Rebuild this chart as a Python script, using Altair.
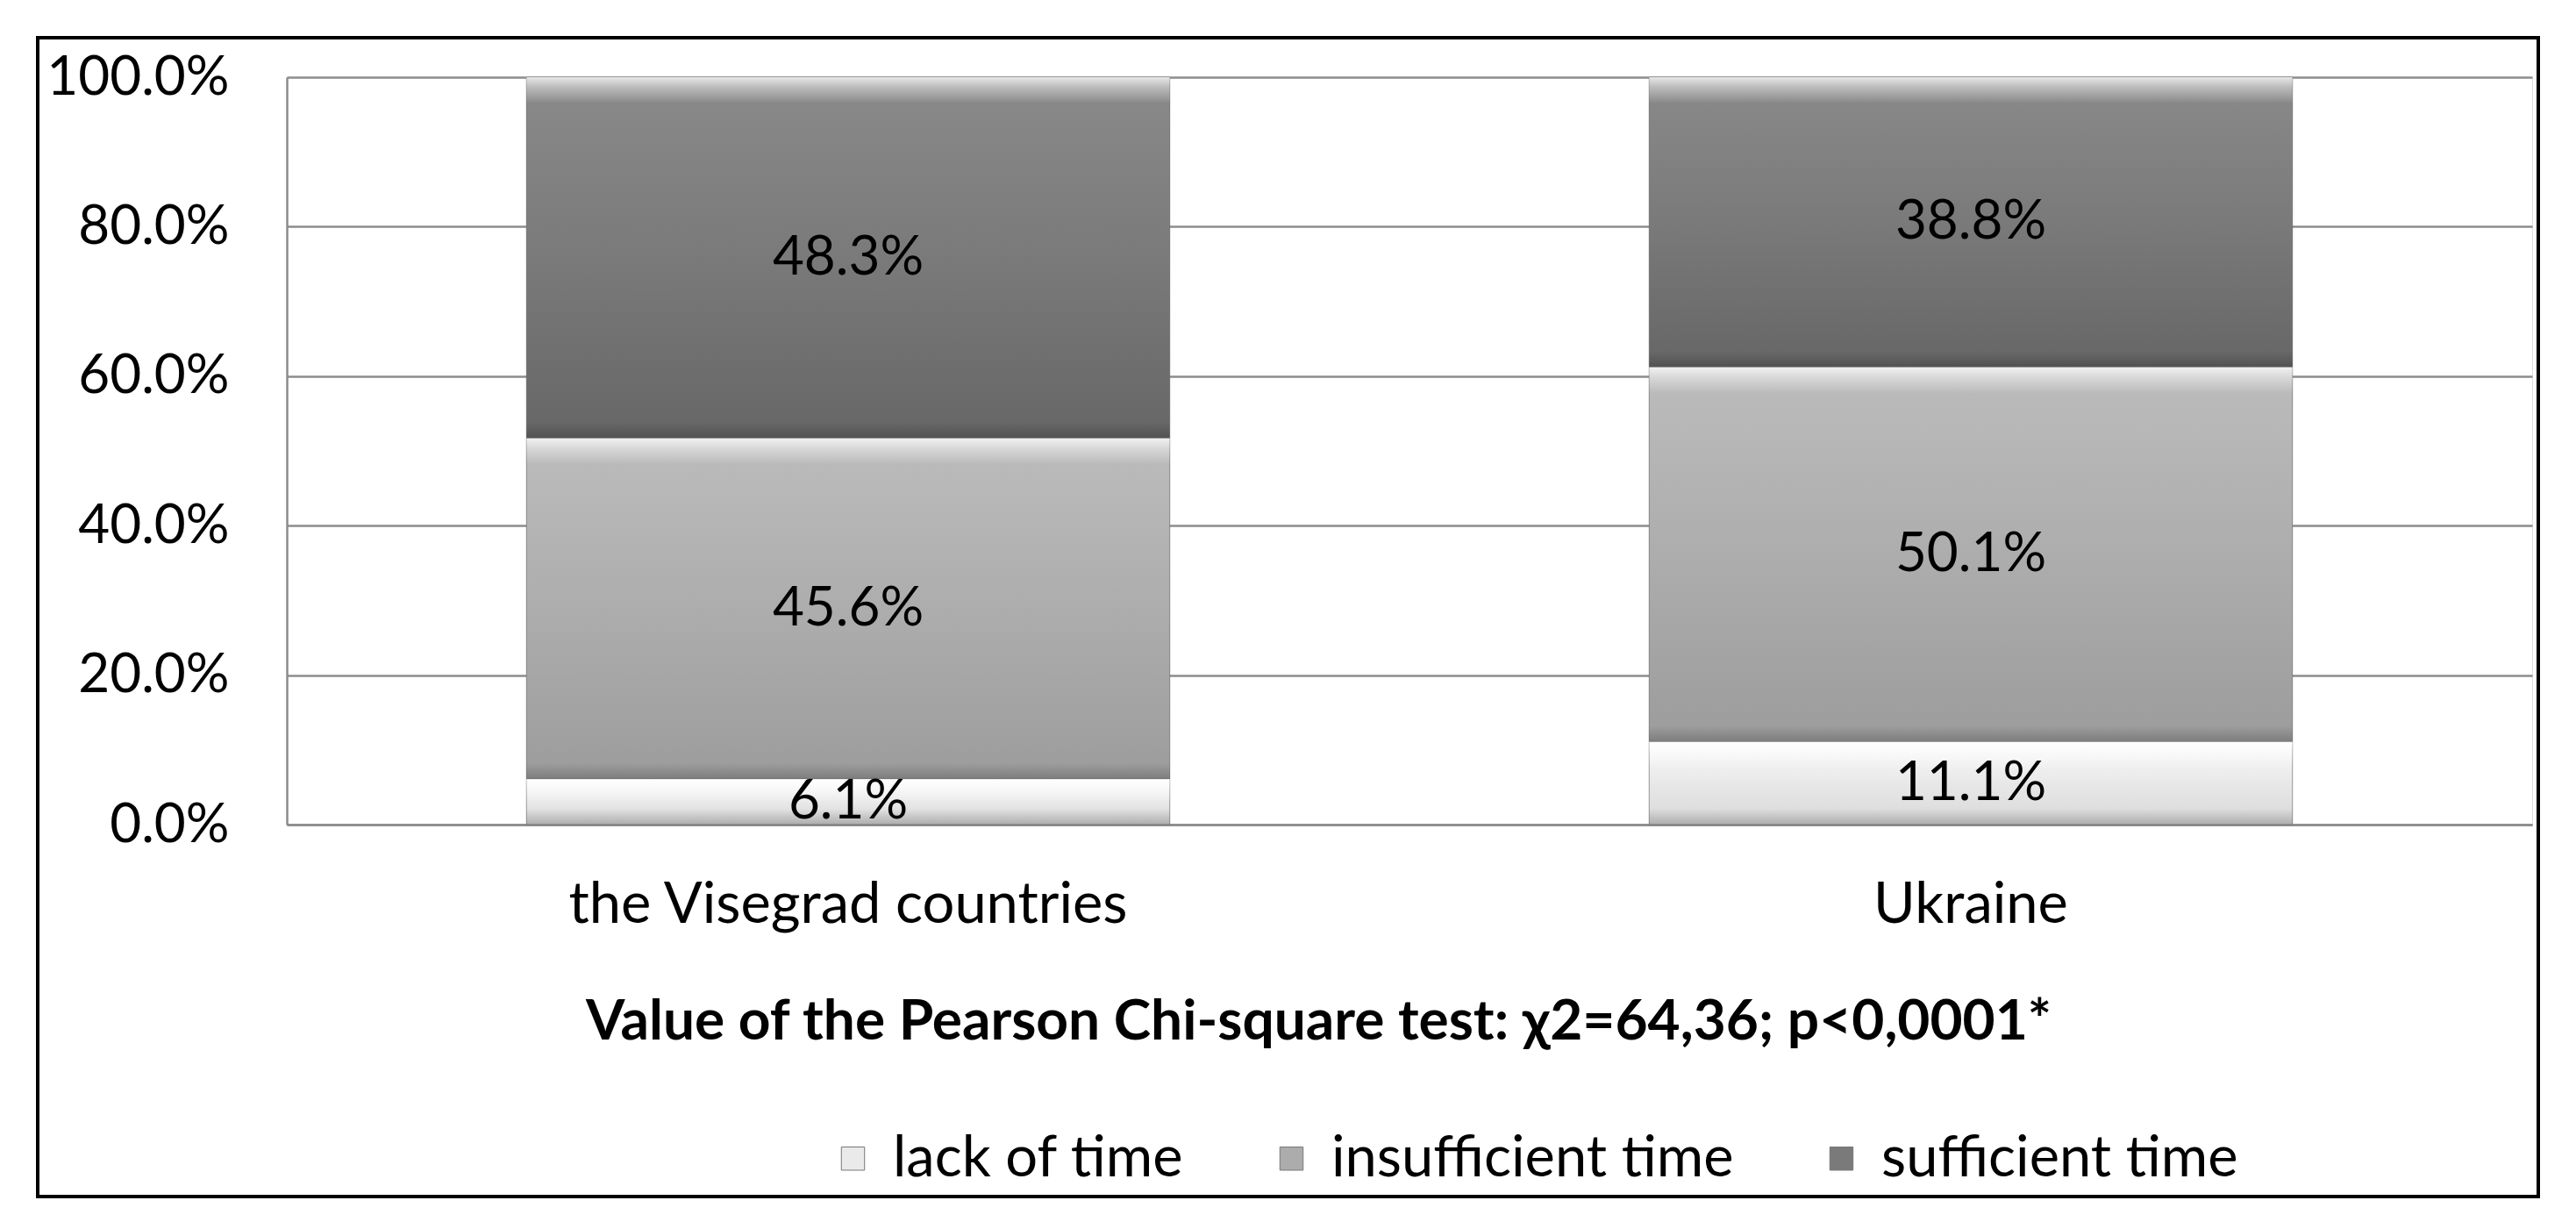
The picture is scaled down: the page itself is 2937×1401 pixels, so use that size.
import altair as alt
import pandas as pd

categories = ["the Visegrad countries", "Ukraine"]
series = ["lack of time", "insufficient time", "sufficient time"]
visegrad_values = [6.1, 45.6, 48.3]
ukraine_values = [11.1, 50.1, 38.8]
y_ticks = [0, 20, 40, 60, 80, 100]
x_title = "Value of the Pearson Chi-square test: χ2=64,36; p<0,0001*"

legend_colors = ["#eaeaea", "#acacac", "#7a7a7a"]
body_stops = {
    "lack of time": [("#fbfbfb", 0), ("#e8e8e8", 0.5), ("#d8d8d8", 1)],
    "insufficient time": [("#bcbcbc", 0), ("#adadad", 0.5), ("#9c9c9c", 1)],
    "sufficient time": [("#8a8a8a", 0), ("#7a7a7a", 0.5), ("#666666", 1)],
}

rows = []
for cat, vals in zip(categories, [visegrad_values, ukraine_values]):
    for i, (s, v) in enumerate(zip(series, vals)):
        rows.append({"category": cat, "series": s, "value": v, "order": i})
df = pd.DataFrame(rows)

FONT = "Lato"
FS = 62
FS_TEXT = 65

y_scale = alt.Scale(domain=[0, 100], nice=False)
y_axis = alt.Axis(
    values=y_ticks, labelExpr="format(datum.value, '.1f') + '%'", title=None,
    grid=True, gridColor="#8c8c8c", gridWidth=2.5,
    domain=True, domainColor="#8c8c8c", domainWidth=2.5, ticks=False,
    labelFont=FONT, labelFontSize=FS, labelColor="black", labelPadding=66,
    labelLimit=2000,
)
x_axis = alt.Axis(
    title=x_title, labelAngle=0, labelFont=FONT, labelFontSize=FS_TEXT,
    labelColor="black", labelPadding=60, labelLimit=2000, ticks=False,
    domain=True, domainColor="#8c8c8c", domainWidth=2.5, grid=False,
    titleFont=FONT, titleFontSize=64, titleFontWeight="bold", titleColor="black",
    titleX=1176, titleY=225, titleBaseline="middle", titleAlign="center",
    titleLimit=4000,
)
x_enc = alt.X("category:N", sort=categories,
              scale=alt.Scale(paddingInner=0.427, paddingOuter=0.2135), axis=x_axis)

base = alt.Chart(df).transform_stack(
    stack="value", groupby=["category"],
    sort=[alt.SortField("order", order="ascending")], as_=["y0", "y1"]
).transform_calculate(
    mid="(datum.y0 + datum.y1) / 2",
    label="format(datum.value, '.1f') + '%'",
)

legend_layer = base.mark_bar().encode(
    x=x_enc,
    y=alt.Y("y0:Q", scale=y_scale, axis=y_axis),
    y2="y1:Q",
    color=alt.Color(
        "series:N", scale=alt.Scale(domain=series, range=legend_colors),
        legend=alt.Legend(
            title=None, orient="none", legendX=613, legendY=1200,
            direction="horizontal", columns=3, symbolType="square",
            symbolSize=700, symbolStrokeColor="#777777", symbolStrokeWidth=1,
            labelFont=FONT, labelFontSize=FS_TEXT, labelColor="black",
            labelOffset=13, columnPadding=90, labelLimit=2000, symbolOpacity=1,
        ),
    ),
)

layers = [legend_layer]
for s in series:
    grad = alt.Gradient(
        gradient="linear", x1=0, y1=0, x2=0, y2=1,
        stops=[alt.GradientStop(color=c, offset=o) for c, o in body_stops[s]],
    )
    layers.append(
        base.transform_filter(alt.datum.series == s)
        .mark_bar(fill=grad, stroke="#707070", strokeWidth=1, strokeOpacity=0.7)
        .encode(x=x_enc, y=alt.Y("y0:Q", scale=y_scale, axis=y_axis), y2="y1:Q")
    )

top_band = base.mark_bar(
    y2Offset=30,
    fill=alt.Gradient(
        gradient="linear", x1=0, y1=0, x2=0, y2=1,
        stops=[alt.GradientStop(color="rgba(255,255,255,0.8)", offset=0),
               alt.GradientStop(color="rgba(255,255,255,0.45)", offset=0.35),
               alt.GradientStop(color="rgba(255,255,255,0)", offset=1)],
    ),
).encode(x=x_enc, y=alt.Y("y1:Q", scale=y_scale, axis=y_axis), y2="y1:Q")

bottom_band = base.mark_bar(
    yOffset=-18,
    fill=alt.Gradient(
        gradient="linear", x1=0, y1=0, x2=0, y2=1,
        stops=[alt.GradientStop(color="rgba(0,0,0,0)", offset=0),
               alt.GradientStop(color="rgba(0,0,0,0.2)", offset=1)],
    ),
).encode(x=x_enc, y=alt.Y("y0:Q", scale=y_scale, axis=y_axis), y2="y0:Q")

labels = base.mark_text(
    font=FONT, fontSize=FS, color="black", align="center", baseline="middle"
).encode(x=x_enc, y=alt.Y("mid:Q", scale=y_scale, axis=y_axis), text="label:N")

border = alt.Chart(pd.DataFrame({"a": [0]})).mark_rect(
    filled=False, stroke="black", strokeWidth=4
).encode(x=alt.value(-284), x2=alt.value(2567), y=alt.value(-45), y2=alt.value(1276))

chart = alt.layer(*layers, top_band, bottom_band, labels, border).properties(
    width=2560, height=852,
    padding={"left": 319, "top": 80, "right": 40, "bottom": 440},
    autosize=alt.AutoSizeParams(type="none"),
).configure_view(stroke=None).configure(background="white")

chart.save("out.html", embed_options={"renderer": "svg", "actions": False})
